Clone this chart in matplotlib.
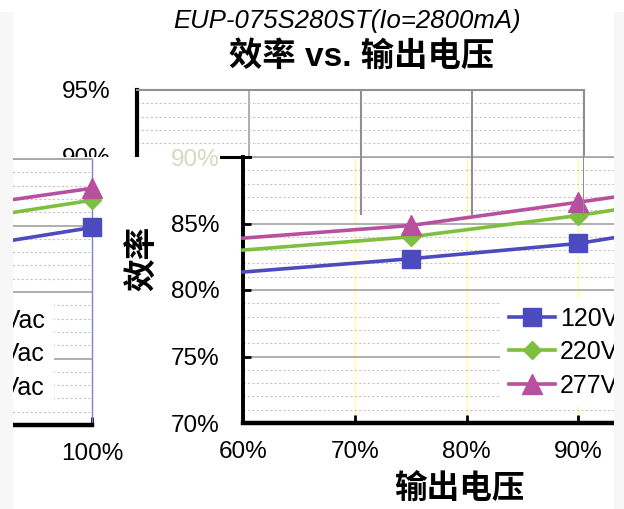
## EUP-075S280ST efficiency vs output voltage (overlapping panel capture)

import matplotlib
matplotlib.use('Agg')
import matplotlib.pyplot as plt
from matplotlib.patches import Rectangle

plt.rcParams['font.family'] = ['Liberation Sans', 'Noto Sans CJK SC']

# --- data ---
vout_pct = [60, 75, 90, 100]
eff_120 = [81.35, 82.35, 83.5, 84.85]
eff_220 = [83.0, 84.0, 85.6, 86.9]
eff_277 = [83.9, 84.85, 86.6, 87.8]
series_labels = ['120Vac', '220Vac', '277Vac']
x_ticks = [60, 70, 80, 90, 100]
y_ticks = [70, 75, 80, 85, 90]

colors = ['#4b4bbf', '#7fbf3f', '#b84f9f']
markers = ['s', 'D', '^']
msizes = [13, 9, 14]

W, H = 624, 509
fig = plt.figure(figsize=(W / 100, H / 100), dpi=100)
fig.patch.set_facecolor('white')


def rect(left, top, right, bottom):
    # pixel box -> figure fraction
    return [left / W, 1 - bottom / H, (right - left) / W, (bottom - top) / H]


def draw_chart(ax, legend=True):
    ax.set_facecolor('white')
    for vals, c, m, ms, lab in zip([eff_120, eff_220, eff_277], colors, markers, msizes, series_labels):
        ax.plot(vout_pct, vals, color=c, lw=2.6, marker=m, ms=ms, markevery=[1, 2, 3],
                label=lab, zorder=3, clip_on=False)
    ax.set_xlim(60, 100)
    ax.set_ylim(70, 90)
    ax.set_xticks(x_ticks)
    ax.set_xticklabels([f'{v}%' for v in x_ticks])
    ax.set_yticks(y_ticks)
    ax.set_yticklabels([f'{v}%' for v in y_ticks])
    ax.set_yticks(range(70, 91), minor=True)
    ax.tick_params(axis='both', which='major', direction='in', length=6, width=2,
                   labelsize=17.5, color='black')
    ax.tick_params(axis='x', pad=13)
    ax.tick_params(axis='y', pad=17)
    ax.tick_params(axis='y', which='minor', length=0)
    ax.grid(axis='y', which='minor', color='#c4c4c4', lw=0.8, ls=(0, (2, 2)))
    ax.grid(axis='y', which='major', color='#a8a8a8', lw=1.3, ls='-')
    ax.grid(axis='x', which='major', color='#ffff99', lw=1.0)
    ax.spines['left'].set_color('black')
    ax.spines['left'].set_linewidth(2.8)
    ax.spines['bottom'].set_color('black')
    ax.spines['bottom'].set_linewidth(3.2)
    ax.spines['top'].set_color('#a8a8a8')
    ax.spines['top'].set_linewidth(1.3)
    ax.spines['right'].set_color('#8080e0')
    ax.spines['right'].set_linewidth(1.0)
    if legend:
        leg = ax.legend(loc='upper left', bbox_to_anchor=(0.575, 0.47), fontsize=18,
                        frameon=True, fancybox=False, framealpha=1, edgecolor='none',
                        facecolor='white', handlelength=1.85, handletextpad=0.2,
                        labelspacing=0.38, borderpad=0.35, borderaxespad=0)
        leg.set_zorder(5)


# --- Panel U: upper copy, only its top band shows ---
axu = fig.add_axes(rect(137, 90, 584, 423), zorder=0)
axu.set_xlim(60, 100)
axu.set_ylim(70, 95)
axu.set_xticks(x_ticks)
axu.set_xticklabels([])
axu.set_yticks([90, 95])
axu.set_yticklabels(['90%', '95%'])
axu.set_yticks(range(70, 96), minor=True)
axu.tick_params(axis='y', which='major', direction='in', length=0, pad=19, labelsize=17.5)
axu.tick_params(axis='y', which='minor', length=0)
axu.tick_params(axis='x', length=0)
axu.grid(axis='y', which='minor', color='#c4c4c4', lw=0.8, ls=(0, (2, 2)))
axu.grid(axis='x', color='#a0a0a0', lw=1.2)
axu.spines['left'].set_color('black')
axu.spines['left'].set_linewidth(3)
axu.spines['top'].set_color('#909090')
axu.spines['top'].set_linewidth(1.5)
axu.spines['right'].set_color('#909090')
axu.spines['right'].set_linewidth(1.5)
axu.spines['bottom'].set_visible(False)

# white sheet over the lower part of panel U
fig.add_artist(Rectangle((0, 0), 1, 1 - 157 / H, transform=fig.transFigure,
                         facecolor='white', edgecolor='none', zorder=0.5))

# --- Panel L: copy shifted left, only 100% end shows ---
axl = fig.add_axes(rect(-355, 159, 92, 425), zorder=1)
draw_chart(axl)

# --- Panel M: main chart ---
axm = fig.add_axes(rect(243, 157, 690, 423), zorder=1)
draw_chart(axm)
axm.get_yticklabels()[-1].set_color('#d8d8c0')
axm.plot([-0.05, 0.015], [1, 1], transform=axm.transAxes, color='black', lw=2.2,
         clip_on=False, zorder=4)
axm.set_xlabel('输出电压', fontsize=23.5, fontweight='bold')
axm.xaxis.set_label_coords(0.485, -0.19)
axm.set_ylabel('效率', fontsize=23.5, fontweight='bold')
axm.yaxis.set_label_coords(-0.19, 0.62)

# grey gridline stubs of panel U showing through on top
axo = fig.add_axes(rect(137, 90, 584, 423), zorder=2)
axo.set_xlim(60, 100)
axo.set_ylim(70, 95)
axo.axis('off')
axo.patch.set_alpha(0)
axo.vlines(x_ticks[2:], 85.6, 95, color='#909090', lw=1.5)

# light side strips
fig.add_artist(Rectangle((0, 0), 13 / W, 1 - 12 / H, transform=fig.transFigure,
                         facecolor='#f7f7f7', edgecolor='none', zorder=3))
fig.add_artist(Rectangle((614 / W, 0), 10 / W, 1 - 12 / H, transform=fig.transFigure,
                         facecolor='#f7f7f7', edgecolor='none', zorder=3))

# --- titles ---
fig.text(347.5 / W, 1 - 21 / H, 'EUP-075S280ST(Io=2800mA)', fontsize=18.5, style='italic',
         ha='center', va='center')
fig.text(362 / W, 1 - 57 / H, '效率 vs. 输出电压', fontsize=24, fontweight='bold',
         ha='center', va='center')

fig.savefig('out.png', dpi=100)
